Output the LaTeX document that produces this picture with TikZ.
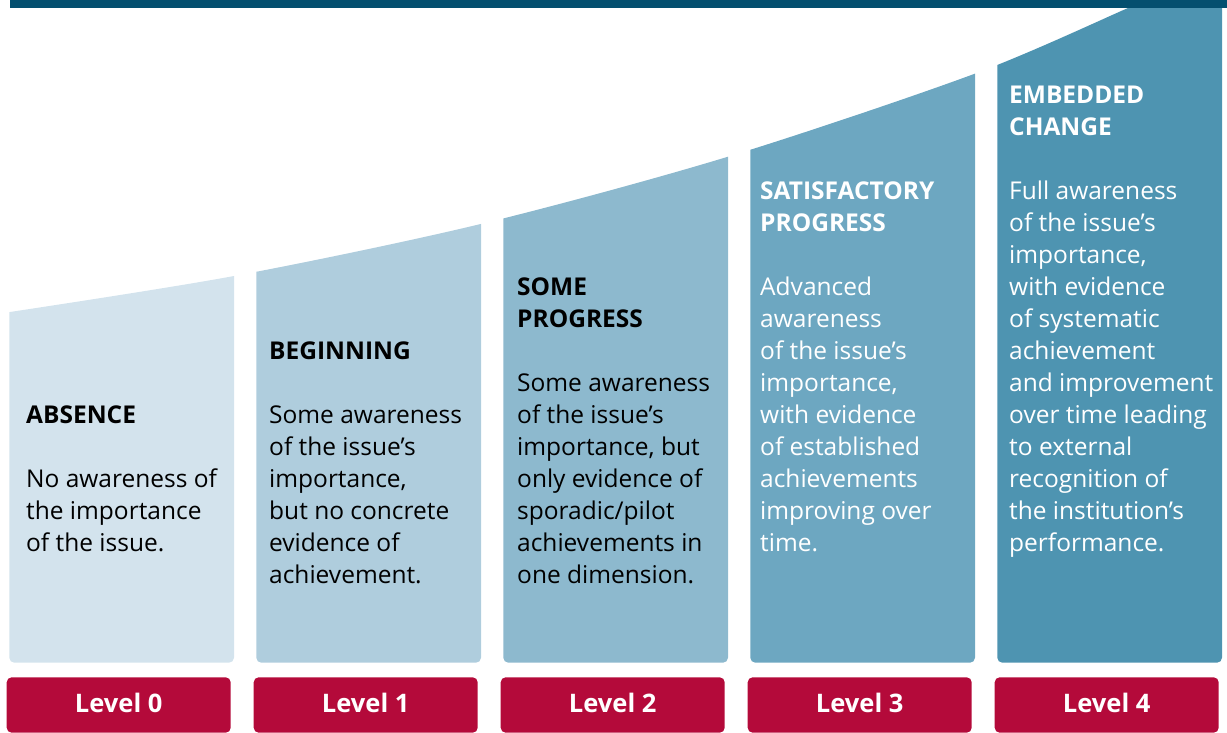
\documentclass[tikz,border=0pt]{standalone}
\usepackage{fontspec}
\setmainfont{Open Sans}

\definecolor{barblue}{HTML}{044F6F}
\definecolor{lvlzero}{HTML}{D3E3ED}
\definecolor{lvlone}{HTML}{AFCDDD}
\definecolor{lvltwo}{HTML}{8DB9CE}
\definecolor{lvlthree}{HTML}{6DA7C1}
\definecolor{lvlfour}{HTML}{4E94B1}
\definecolor{lvlred}{HTML}{B40A3A}

\tikzset{
    stagetext/.style={anchor=base west, inner sep=0pt, align=left, font=\fontsize{24.5}{32}\selectfont},
    levelbox/.style={fill=lvlred, text=white, rounded corners=5pt, minimum width=224pt, minimum height=55.4pt, inner sep=0pt, text depth=5pt, font=\fontsize{25.5}{32}\selectfont\bfseries},
}

\begin{document}
\begin{tikzpicture}[x=1pt,y=-1pt]
    \useasboundingbox (0,0) rectangle (1227,733);

    % Stage columns, cut off by the rising curve
    \begin{scope}
        \clip plot[smooth] coordinates {(0,313.5) (234,276) (480.7,224) (727,157) (974,74) (1128,8) (1150,-2)} -- (1227,-2) -- (1227,733) -- (0,733) -- cycle;
        \fill[lvlzero, rounded corners=5pt] (9.3,0) rectangle (234,662.7);
        \fill[lvlone, rounded corners=5pt] (256.3,0) rectangle (481,662.7);
        \fill[lvltwo, rounded corners=5pt] (503.3,0) rectangle (728,662.7);
        \fill[lvlthree, rounded corners=5pt] (750.3,0) rectangle (975,662.7);
        \fill[lvlfour, rounded corners=5pt] (997.3,0) rectangle (1222,662.7);
    \end{scope}

    % Top bar
    \fill[barblue] (10,0) rectangle (1227,7.7);

    % Stage descriptions (placed by the baseline of their last line)
    \node[stagetext] (absence) at (26,551.5) {\textbf{ABSENCE}\\[32pt]No awareness of\\the importance\\of the issue.};
    \node[stagetext] (beginning) at (269,583.5) {\textbf{BEGINNING}\\[32pt]Some awareness\\of the issue’s\\importance,\\but no concrete\\evidence of\\achievement.};
    \node[stagetext] (someprog) at (517,583.5) {\textbf{SOME}\\\textbf{PROGRESS}\\[32pt]Some awareness\\of the issue’s\\importance, but\\only evidence of\\sporadic/pilot\\achievements in\\one dimension.};
    \node[stagetext, text=white] (satisf) at (760,551.5) {\textbf{SATISFACTORY}\\\textbf{PROGRESS}\\[32pt]Advanced\\awareness\\of the issue’s\\importance,\\with evidence\\of established\\achievements\\improving over\\time.};
    \node[stagetext, text=white] (embedded) at (1009,551.5) {\textbf{EMBEDDED}\\\textbf{CHANGE}\\[32pt]Full awareness\\of the issue’s\\importance,\\with evidence\\of systematic\\achievement\\and improvement\\over time leading\\to external\\recognition of\\the institution’s\\performance.};

    % Level labels
    \node[levelbox] (lvl0) at (118.7,705) {Level 0};
    \node[levelbox] (lvl1) at (365.7,705) {Level 1};
    \node[levelbox] (lvl2) at (612.7,705) {Level 2};
    \node[levelbox] (lvl3) at (859.7,705) {Level 3};
    \node[levelbox] (lvl4) at (1106.7,705) {Level 4};
\end{tikzpicture}
\end{document}
